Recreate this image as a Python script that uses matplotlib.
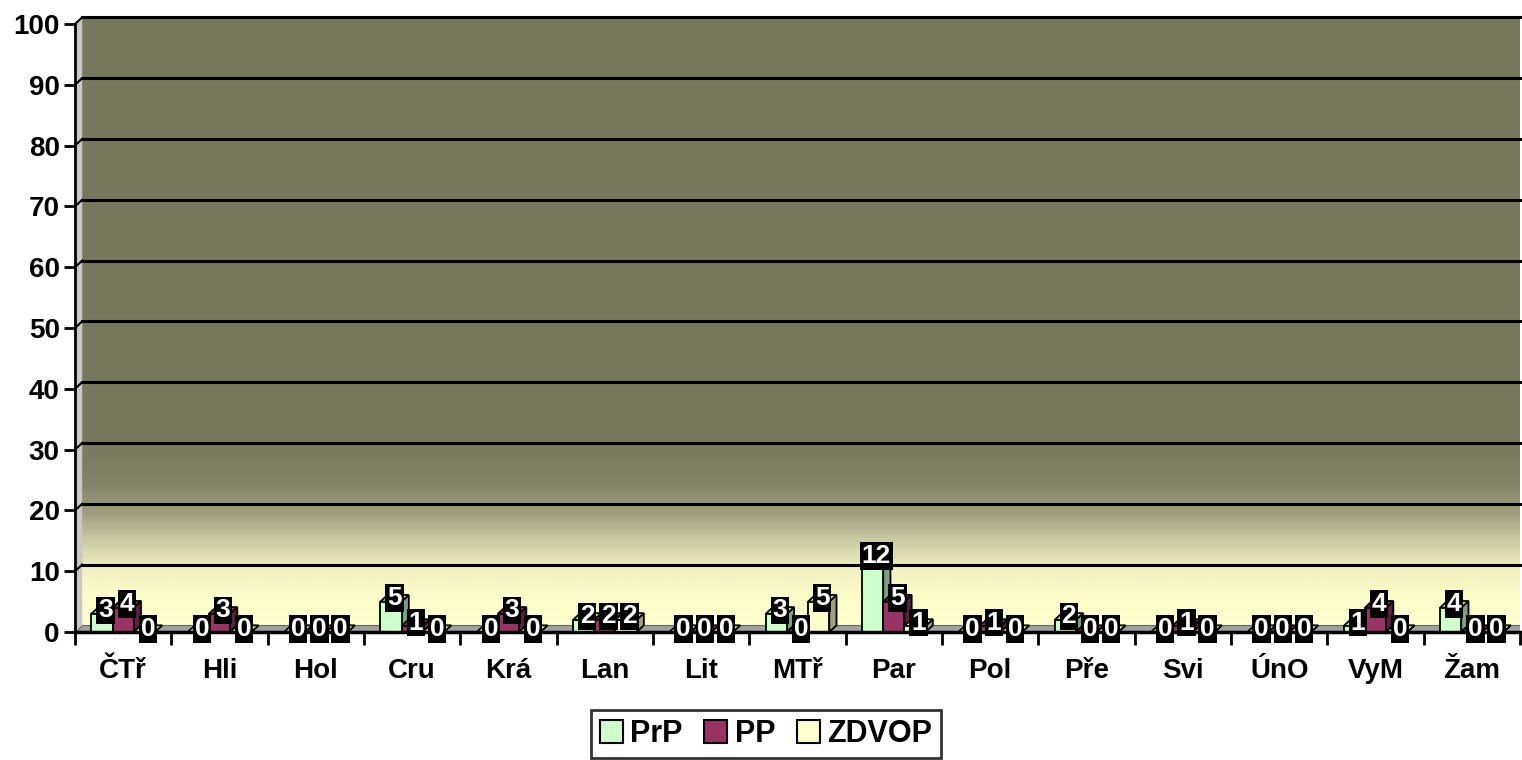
import numpy as np
import matplotlib.pyplot as plt
from matplotlib.patches import Polygon
from matplotlib.colors import LinearSegmentedColormap

plt.rcParams["font.family"] = ["Liberation Sans", "DejaVu Sans"]
plt.rcParams["font.weight"] = "bold"

# data
categories = ["ČTř", "Hli", "Hol", "Cru", "Krá", "Lan", "Lit", "MTř",
              "Par", "Pol", "Pře", "Svi", "ÚnO", "VyM", "Žam"]
prp = [3, 0, 0, 5, 0, 2, 0, 3, 12, 0, 2, 0, 0, 1, 4]
pp = [4, 3, 0, 1, 3, 2, 0, 0, 5, 1, 0, 1, 0, 4, 0]
zdvop = [0, 0, 0, 0, 0, 2, 0, 5, 1, 0, 0, 0, 0, 0, 0]
series_names = ["PrP", "PP", "ZDVOP"]
y_ticks = list(range(0, 101, 10))

front_colors = ["#CCFFCC", "#993366", "#FFFFCC"]
side_colors = ["#7FA07F", "#5E1F3F", "#A0A07E"]
top_colors = ["#B8E6B8", "#8A2E5C", "#E6E6B8"]

fig = plt.figure(figsize=(15.22, 7.6), dpi=100)
ax = fig.add_axes([75 / 1522, 128 / 760, 1445 / 1522, 608 / 760])
ax.set_xlim(-0.5, 14.5)
ax.set_ylim(0, 100)

dx = 0.075   # depth in category units
dy = 1.1     # depth in value units
x0, x1 = -0.5, 14.5

# back wall gradient
cmap = LinearSegmentedColormap.from_list("wall", [
    (0.0, "#FFFFCC"), (0.05, "#FCFCC8"), (0.09, "#F0F0C0"), (0.13, "#D0D0A8"),
    (0.18, "#A0A080"), (0.23, "#84846A"), (0.30, "#78785F"), (1.0, "#77775E")])
grad = np.linspace(0, 1, 300).reshape(-1, 1)
ax.imshow(grad, cmap=cmap, origin="lower", aspect="auto",
          extent=(x0 + dx, x1, dy, 100 + dy), zorder=0, clip_on=False)

# left side wall and floor
ax.add_patch(Polygon([(x0, 0), (x0 + dx, dy), (x0 + dx, 100 + dy), (x0, 100)],
                     closed=True, facecolor="#C8C8C8", edgecolor="none",
                     zorder=1, clip_on=False))
ax.add_patch(Polygon([(x0, 0), (x1, 0), (x1, dy), (x0 + dx, dy)],
                     closed=True, facecolor="#A0A0A0", edgecolor="#666666",
                     linewidth=0.8, zorder=1))
ax.plot([x0 + dx, x1], [100 + dy, 100 + dy], color="#C8C8C8", lw=2,
        zorder=1, clip_on=False)

# gridlines on the back wall
for v in y_ticks[1:]:
    ax.plot([x0 + dx, x1], [v + dy, v + dy], color="black", lw=2.2, zorder=2,
            clip_on=False)
    ax.plot([x0, x0 + dx], [v, v + dy], color="black", lw=1.5, zorder=2,
            clip_on=False)

# 3D-looking bars
w = 0.22
offsets = [-w, 0, w]
all_series = [prp, pp, zdvop]
z = 3
for i in range(len(categories)):
    for s, vals in enumerate(all_series):
        h = vals[i]
        left = i + offsets[s] - w / 2
        right = left + w
        ax.add_patch(Polygon([(right, 0), (right + dx, dy), (right + dx, h + dy), (right, h)],
                             closed=True, facecolor=side_colors[s], edgecolor="black",
                             linewidth=1.3, zorder=z))
        ax.add_patch(Polygon([(left, h), (right, h), (right + dx, h + dy), (left + dx, h + dy)],
                             closed=True, facecolor=top_colors[s], edgecolor="black",
                             linewidth=1.3, zorder=z))
        ax.bar(left, h, width=w, align="edge", color=front_colors[s],
               edgecolor="black", linewidth=1.3, zorder=z)
        z += 1

# data labels (narrow font gives the tall, thin label boxes)
for i in range(len(categories)):
    for s, vals in enumerate(all_series):
        h = vals[i]
        cx = i + offsets[s] + dx / 2
        ax.text(cx, h + dy / 2, str(h), ha="center", va="center", color="white",
                fontsize=19, fontweight="bold", zorder=200,
                family=["Liberation Sans Narrow", "Liberation Sans"],
                bbox=dict(boxstyle="square,pad=0.07", facecolor="black",
                          edgecolor="none"))

# axes styling
for side in ["top", "right"]:
    ax.spines[side].set_visible(False)
ax.spines["left"].set_linewidth(2)
ax.spines["bottom"].set_linewidth(2.5)
ax.spines["left"].set_zorder(150)
ax.spines["bottom"].set_zorder(150)

ax.set_yticks(y_ticks)
ax.set_yticklabels([str(v) for v in y_ticks], fontsize=20, fontweight="bold")
ax.tick_params(axis="y", direction="out", length=8, width=2, pad=3)

ax.set_xticks(np.arange(len(categories)))
ax.set_xticklabels(categories, fontsize=20, fontweight="bold")
ax.tick_params(axis="x", which="major", length=0, pad=19)
ax.set_xticks(np.arange(-0.5, len(categories), 1.0), minor=True)
ax.tick_params(axis="x", which="minor", direction="out", length=9, width=2)

# legend
handles = [plt.Rectangle((0, 0), 1, 1, facecolor=c, edgecolor="black", lw=1.5)
           for c in front_colors]
leg = fig.legend(handles, series_names, loc="upper center",
                 bbox_to_anchor=(766 / 1522, 1 - 710 / 760), ncol=3,
                 fontsize=22, frameon=True, fancybox=False, edgecolor="black",
                 handlelength=0.75, handleheight=0.75, handletextpad=0.25,
                 columnspacing=0.7, borderpad=0.3, borderaxespad=0)
leg.get_frame().set_linewidth(2)
for t in leg.get_texts():
    t.set_fontweight("bold")

fig.savefig("out.png", dpi=100)
